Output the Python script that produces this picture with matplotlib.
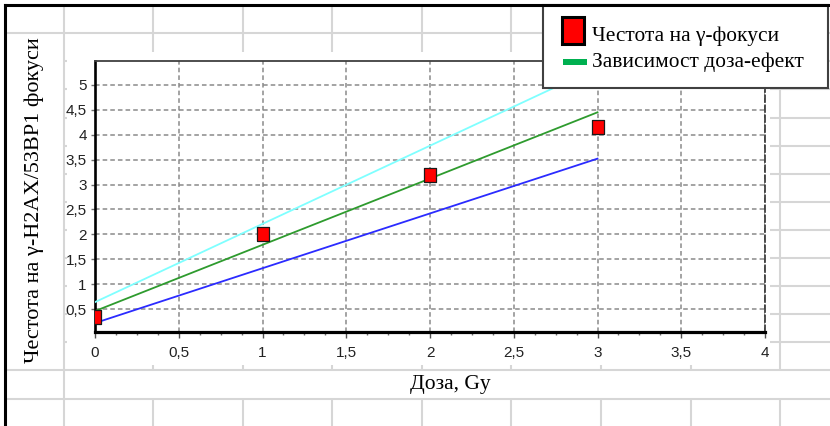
import matplotlib.pyplot as plt
from matplotlib.patches import Rectangle
from matplotlib.ticker import MultipleLocator, FuncFormatter

# measured foci frequency per dose
dose = [0, 1, 2, 3]
foci = [0.34, 2.01, 3.19, 4.15]

# dose-effect fit with upper / lower bounds
fit_dose = [0, 3]
fit_mid = [0.46, 4.45]
fit_upper = [0.64, 5.35]
fit_lower = [0.22, 3.52]

xticks = [0, 0.5, 1, 1.5, 2, 2.5, 3, 3.5, 4]
yticks = [0.5, 1, 1.5, 2, 2.5, 3, 3.5, 4, 4.5, 5]

legend_labels = ["Честота на γ-фокуси", "Зависимост доза-ефект"]
ylabel = "Честота на γ-H2AX/53BP1 фокуси"
xlabel = "Доза, Gy"

W, H = 830, 426
SERIF = ["Liberation Serif", "DejaVu Serif"]
NARROW = ["Liberation Sans Narrow", "Liberation Sans", "DejaVu Sans"]

fig = plt.figure(figsize=(W / 100, H / 100), dpi=100)

# worksheet cells behind the chart, in pixel units
sheet = fig.add_axes([0, 0, 1, 1])
sheet.set_xlim(0, W)
sheet.set_ylim(H, 0)
sheet.axis("off")

cols = [64, 153, 243, 332, 422, 511, 601, 691, 780]
rows = [33, 61, 89, 118, 146, 174, 202, 230, 258, 286, 314, 342, 370, 399]
cell = dict(color="#d6d6d6", lw=1.5, zorder=1, solid_capstyle="butt")
for r in rows:
    x0 = 5 if r in (33, 370, 399) else 64
    sheet.plot([x0, W], [r, r], **cell)
for c in cols:
    if c == 64:
        sheet.plot([c, c], [5, H], **cell)
    else:
        sheet.plot([c, c], [5, 370], **cell)
        sheet.plot([c, c], [399, H], **cell)

# chart object covers the cells
sheet.add_patch(Rectangle((67, 52), 703, 313, fc="white", ec="none", zorder=2))

# plot area
ax = fig.add_axes([95 / W, 1 - 332 / H, 670 / W, 271 / H])
ax.set_facecolor("white")
ax.set_xlim(0, 4)
ax.set_ylim(0.04, 5.48)

ax.plot(fit_dose, fit_upper, color="#7fffff", lw=1.3, zorder=3)
ax.plot(fit_dose, fit_mid, color="#2e9b2e", lw=1.3, zorder=3)
ax.plot(fit_dose, fit_lower, color="#2b2bff", lw=1.3, zorder=3)

box = [(-6, -7), (6, -7), (6, 7), (-6, 7), (-6, -7)]
ax.plot(dose, foci, ls="none", marker=box, ms=10, mfc="#ff0000",
        mec="#1a1a1a", mew=0.9, zorder=4)

ax.set_xticks(xticks)
ax.set_yticks(yticks)
ax.xaxis.set_minor_locator(MultipleLocator(0.125))
comma = FuncFormatter(lambda v, p: f"{v:g}".replace(".", ","))
ax.xaxis.set_major_formatter(comma)
ax.yaxis.set_major_formatter(comma)

ax.grid(True, which="major", color="#8a8a8a", ls=(0, (3, 2)), lw=1.1)
ax.set_axisbelow(True)
ax.tick_params(axis="x", which="major", direction="out", length=4, width=1,
               color="#505050", pad=6, labelsize=11)
ax.tick_params(axis="x", which="minor", direction="out", length=2.5, width=1,
               color="#707070")
ax.tick_params(axis="y", which="major", direction="out", length=3, width=1,
               color="#707070", pad=3, labelsize=11)
for lab in ax.get_xticklabels() + ax.get_yticklabels():
    lab.set_family(NARROW)
    lab.set_color("#222222")

ax.spines["left"].set(color="black", lw=1.9)
ax.spines["bottom"].set(color="black", lw=2.3)
ax.spines["top"].set(color="#404040", lw=1.3)
ax.spines["right"].set(color="#303030", lw=1.2, ls=(0, (4, 2)))

# legend box, axis titles and sheet border on top
top = fig.add_axes([0, 0, 1, 1])
top.set_xlim(0, W)
top.set_ylim(H, 0)
top.axis("off")

top.add_patch(Rectangle((543, 5), 285, 83, fc="white", ec="#404040", lw=1.5))
top.add_patch(Rectangle((562, 17), 22, 27, fc="#ff0000", ec="black", lw=2.2))
top.add_patch(Rectangle((563, 59), 24, 6, fc="#00b050", ec="none"))
top.text(592, 36, legend_labels[0], family=SERIF, fontsize=15.4, va="center")
top.text(592, 62, legend_labels[1], family=SERIF, fontsize=15.4, va="center")

top.text(34, 200, ylabel, family=SERIF, fontsize=16, rotation=90,
         ha="center", va="center")
top.text(450, 385, xlabel, family=SERIF, fontsize=15.5, ha="center", va="center")

top.plot([5, 5], [5, H], color="black", lw=2.2, solid_capstyle="projecting")
top.plot([5, W], [5, 5], color="black", lw=2.2, solid_capstyle="projecting")

fig.savefig("out.png", dpi=100)
